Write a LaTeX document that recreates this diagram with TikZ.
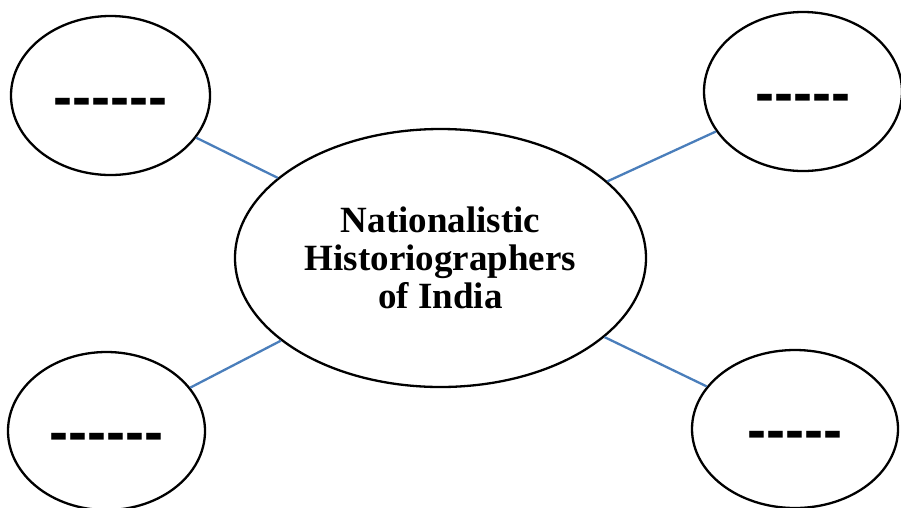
\documentclass[tikz,border=0pt]{standalone}
\usepackage{fontspec}
\setmainfont{Liberation Serif}
\newfontfamily\dashfont{Liberation Sans}
\usetikzlibrary{shapes.geometric}
\definecolor{linkblue}{HTML}{4A7EBB}

\begin{document}
\begin{tikzpicture}[x=1pt,y=-1pt,
  bubble/.style={draw=black,line width=2.3pt,ellipse,inner sep=0pt},
  blank/.style={bubble,font=\dashfont\bfseries\fontsize{57}{57}\selectfont,text height=41pt,text depth=0pt},
  link/.style={draw=linkblue,line width=2.3pt}]
\useasboundingbox (0,0) rectangle (901,507);
\clip (0,0) rectangle (901,507);
\node [bubble,minimum width=411pt,minimum height=258pt,align=center,
  font=\bfseries\fontsize{37}{38}\selectfont] (hist) at (440.5,258)
  {Nationalistic\\Historiographers\\of India};
\node [blank,minimum width=199pt,minimum height=159pt] (tl) at (110.5,95.5) {------};
\node [blank,minimum width=198pt,minimum height=159pt] (tr) at (803,91.5) {-----};
\node [blank,minimum width=197pt,minimum height=158pt] (bl) at (106.5,431) {------};
\node [blank,minimum width=206pt,minimum height=158pt] (br) at (795,429) {-----};
\draw [link] (tl) -- (hist);
\draw [link] (tr) -- (hist);
\draw [link] (bl) -- (hist);
\draw [link] (br) -- (hist);
\end{tikzpicture}
\end{document}
